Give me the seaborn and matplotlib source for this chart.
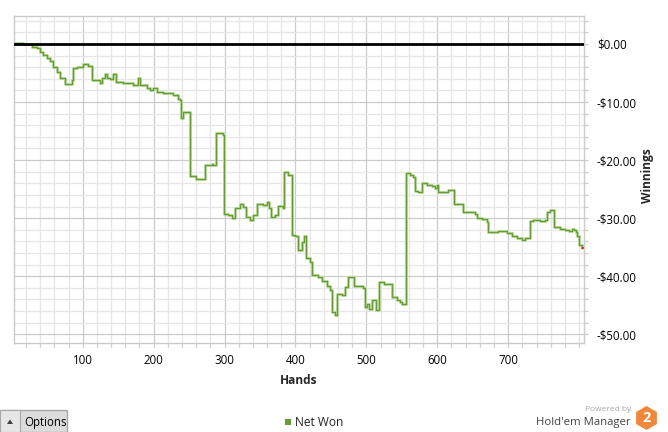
import numpy as np
import pandas as pd
import seaborn as sns
import matplotlib.pyplot as plt
from matplotlib.patches import Rectangle, Polygon
from matplotlib.ticker import MultipleLocator, FuncFormatter

# hand number / cumulative net won ($)
hands = [3, 15.7, 27.9, 35, 39.6, 43.9, 49.1, 53.7, 58.4, 63.6,
         67.8, 74.9, 84.3, 86.6, 91.4, 100.7, 107.8, 112.6, 124.3, 126.7,
         131.3, 133.7, 138.4, 143, 146.8, 157.1, 171.2, 177.4, 180.7, 190.1,
         194.8, 199.4, 204.2, 213.5, 227.6, 234.7, 237.1, 238.5, 241.3, 251,
         258.3, 259.7, 272.4, 281.8, 283.6, 288.6, 297.3, 299.6, 305.2, 310,
         314.7, 321.7, 326.4, 330.2, 335.8, 339.6, 346.1, 354.6, 360.2, 363,
         365, 371.1, 374.9, 381.9, 383.8, 389.8, 394.6, 399.3, 404, 408.7,
         412, 414.8, 420.5, 422.8, 432.2, 437, 444, 448.7, 451, 455.7,
         458.1, 465.2, 469.8, 474.5, 482.5, 491, 495.6, 498, 501.3, 504.1,
         507.5, 513.6, 518.2, 524.8, 535.7, 542.7, 547.4, 549.8, 555.8, 561.5,
         565.3, 568.5, 573.2, 578, 585, 592.1, 596.8, 599.2, 601.4, 615.5,
         623.6, 636.7, 653.2, 655.6, 662.6, 669.7, 671.9, 686, 697.9, 704.9,
         712, 719, 723.7, 730.7, 735.4, 744.9, 751.9, 754.3, 759, 765,
         773.1, 780.1, 786.2, 789.6, 792.8, 795.6, 797.4, 800.3, 803.7]
net_won = [0.2, 0.0, -0.6, -0.75, -1.3, -1.9, -2.5, -3.0, -3.9, -4.8,
           -5.9, -6.9, -6.2, -4.2, -4.0, -3.5, -3.8, -6.2, -6.8, -5.9,
           -5.2, -5.9, -6.0, -5.1, -6.5, -6.7, -7.1, -5.9, -7.1, -7.6,
           -7.9, -7.5, -8.2, -8.5, -8.8, -9.4, -9.7, -12.8, -11.8, -22.7,
           -22.8, -23.3, -20.9, -20.6, -20.9, -15.4, -15.7, -29.2, -29.5, -30.0,
           -28.3, -27.6, -28.0, -29.8, -30.3, -29.5, -27.6, -27.8, -27.2, -28.3,
           -29.8, -29.5, -27.9, -28.2, -22.0, -22.6, -32.9, -33.1, -35.5, -34.1,
           -33.1, -36.9, -37.5, -39.8, -40.1, -40.8, -41.6, -42.4, -46.2, -46.6,
           -43.0, -43.3, -41.8, -40.1, -41.6, -41.7, -42.1, -45.3, -44.7, -45.6,
           -44.1, -45.9, -41.0, -41.3, -43.6, -44.1, -44.4, -44.8, -22.2, -22.6,
           -22.9, -25.3, -25.5, -24.0, -24.3, -24.5, -24.8, -24.3, -25.5, -25.2,
           -27.5, -29.0, -29.2, -29.9, -30.2, -30.6, -32.4, -32.2, -32.6, -33.1,
           -33.5, -33.8, -33.4, -30.5, -30.3, -30.5, -30.3, -28.9, -28.6, -31.5,
           -31.9, -32.1, -32.2, -31.8, -32.1, -32.4, -33.1, -34.7, -35.1]
tail_hands = [803.7, 807.4]
tail_won = [-35.2, -35.2]

x_ticks = [100, 200, 300, 400, 500, 600, 700]
y_ticks = [0, -10, -20, -30, -40, -50]

W, H = 668, 432


def fx(px):
    return px / W


def fy(py):
    return 1 - py / H


sns.set_theme(style='white')
plt.rcParams['font.family'] = ['Open Sans', 'DejaVu Sans']
FS = 8.6

fig = plt.figure(figsize=(W / 100, H / 100), dpi=100)
fig.patch.set_facecolor('white')
ax = fig.add_axes([fx(14), fy(343.3), fx(584.3) - fx(14), fy(15.7) - fy(343.3)])

df = pd.DataFrame({'Hands': hands, 'Net Won': net_won})
sns.lineplot(data=df, x='Hands', y='Net Won', ax=ax, color='#c3deac', lw=2.2,
             drawstyle='steps-post', estimator=None, sort=False, zorder=3)
sns.lineplot(data=df, x='Hands', y='Net Won', ax=ax, color='#689c35', lw=0.95,
             drawstyle='steps-post', estimator=None, sort=False, zorder=4)
ax.plot(tail_hands, tail_won, color='#e8202a', lw=1.3, zorder=4)
ax.axhline(0, color='black', lw=2.0, zorder=5)

ax.set_xlim(3, 807.4)
ax.set_ylim(-51.55, 4.87)

ax.set_xticks(x_ticks)
ax.xaxis.set_minor_locator(MultipleLocator(20))
ax.set_yticks(y_ticks)
ax.yaxis.set_minor_locator(MultipleLocator(2))
ax.yaxis.set_major_formatter(FuncFormatter(
    lambda v, p: '-${:.2f}'.format(abs(v)) if v < 0 else '${:.2f}'.format(abs(v))))
ax.yaxis.tick_right()

ax.grid(which='major', color='#cbcbcb', lw=0.9)
ax.grid(which='minor', color='#e6e6e6', lw=0.9)
ax.set_axisbelow(True)
for s in ax.spines.values():
    s.set_color('#cbcbcb')
    s.set_linewidth(1.0)

ax.tick_params(axis='both', which='both', length=3, width=0.9, color='#cbcbcb',
               labelsize=8.3, labelcolor='black')
ax.tick_params(axis='x', which='both', bottom=True, pad=5)
ax.tick_params(axis='y', which='both', right=True, left=False, pad=6)
ax.set_xlabel('')
ax.set_ylabel('')

fig.text(fx(299), fy(380), 'Hands', ha='center', va='center', fontsize=FS,
         fontweight='bold')
fig.text(fx(647), fy(176), 'Winnings', ha='center', va='center', rotation=90,
         fontsize=FS, fontweight='bold')

# bottom bar: options button
fig.patches.append(Rectangle((fx(0), fy(432)), fx(67), fy(410) - fy(432),
                             transform=fig.transFigure, facecolor='#dcdcdc',
                             edgecolor='#a8a8a8', lw=1.0))
fig.patches.append(Rectangle((fx(0), fy(432)), fx(20), fy(410) - fy(432),
                             transform=fig.transFigure, facecolor='#e6e6e6',
                             edgecolor='#a8a8a8', lw=0.8))
fig.patches.append(Polygon([(fx(7), fy(424)), (fx(13), fy(424)), (fx(10), fy(419.5))],
                           closed=True, transform=fig.transFigure,
                           facecolor='#404040', edgecolor='none'))
fig.text(fx(24), fy(422.5), 'Options', ha='left', va='center', fontsize=8.3,
         color='black')

# legend
fig.patches.append(Rectangle((fx(285), fy(424.5)), fx(6), fy(418.5) - fy(424.5),
                             transform=fig.transFigure, facecolor='#689c35',
                             edgecolor='none'))
fig.text(fx(295), fy(422), 'Net Won', ha='left', va='center', fontsize=FS,
         color='#222222')

# branding
fig.text(fx(631), fy(409.5), 'Powered by', ha='right', va='center', fontsize=6.0,
         color='#a8a8a8')
fig.text(fx(631), fy(422), "Hold'em Manager", ha='right', va='center', fontsize=8.2,
         color='#444444')
cx, cy, r = 646.5, 418, 12
hexa = [(fx(cx + r * np.sin(a)), fy(cy - r * np.cos(a)))
        for a in np.radians([0, 60, 120, 180, 240, 300])]
fig.patches.append(Polygon(hexa, closed=True, transform=fig.transFigure,
                           facecolor='#f0883a', edgecolor='none'))
fig.text(fx(cx), fy(cy + 0.5), '2', ha='center', va='center', fontsize=10.5,
         fontweight='bold', color='white')

fig.savefig('out.png', dpi=100)
